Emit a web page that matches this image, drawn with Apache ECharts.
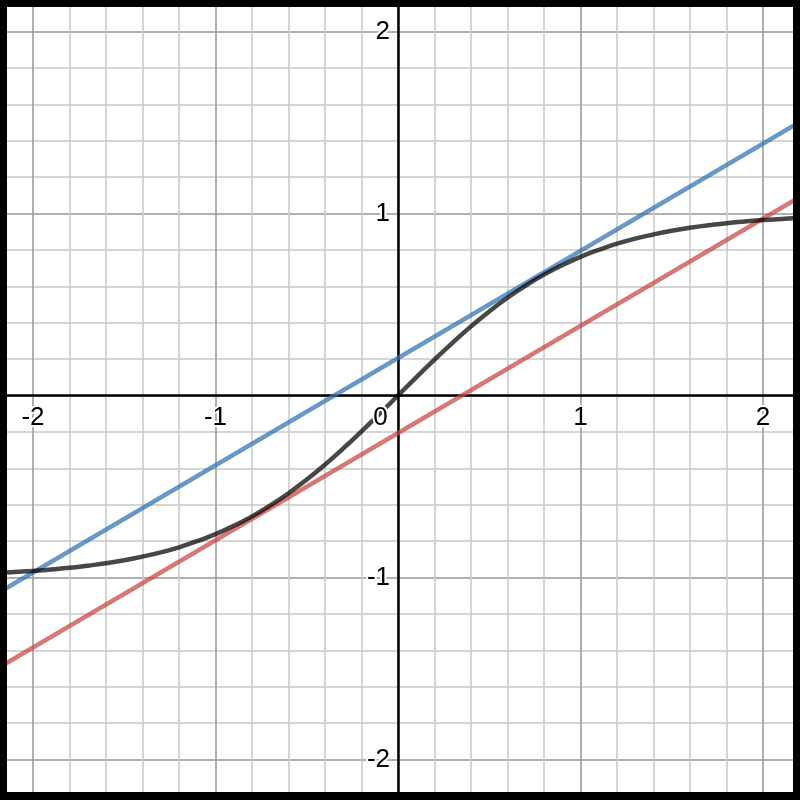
<!DOCTYPE html>
<html>
<head>
<meta charset="utf-8">
<script src="https://cdn.jsdelivr.net/npm/echarts@6/dist/echarts.min.js"></script>
<style>
  html, body { margin: 0; padding: 0; background: #fff; }
  #chart { width: 800px; height: 800px; }
</style>
</head>
<body>
<div id="chart"></div>
<script>
// Black curve (sigmoid-like)
const curveX = [-2.2,-2.1,-2.0,-1.9,-1.8,-1.7,-1.6,-1.5,-1.4,-1.3,-1.2,-1.1,-1.0,-0.9,-0.8,-0.7,-0.6,-0.5,-0.4,-0.3,-0.2,-0.1,0,
                0.1,0.2,0.3,0.4,0.5,0.6,0.7,0.8,0.9,1.0,1.1,1.2,1.3,1.4,1.5,1.6,1.7,1.8,1.9,2.0,2.1,2.2];
const curveY = [-0.976,-0.970,-0.964,-0.956,-0.947,-0.935,-0.922,-0.905,-0.885,-0.862,-0.834,-0.800,-0.762,-0.716,-0.664,-0.604,-0.537,-0.462,-0.380,-0.291,-0.197,-0.100,0,
                0.100,0.197,0.291,0.380,0.462,0.537,0.604,0.664,0.716,0.762,0.800,0.834,0.862,0.885,0.905,0.922,0.935,0.947,0.956,0.964,0.970,0.976];
// Blue straight line (end points)
const blueX = [-2.2, 2.2];
const blueY = [-1.090, 1.502];
// Red straight line (end points)
const redX = [-2.2, 2.2];
const redY = [-1.502, 1.090];
// Axis tick labels
const xTickLabels = [-2, -1, 0, 1, 2];
const yTickLabels = [-2, -1, 1, 2];

const zip = (xs, ys) => xs.map((x, i) => [x, ys[i]]);
const isInt = v => Math.abs(v - Math.round(v)) < 1e-6;

const chart = echarts.init(document.getElementById('chart'), null, { renderer: 'canvas' });
const font = "'Liberation Sans', Arial, sans-serif";
const minor = '#c8c8c8', major = '#969696';

// plot geometry (pixels)
const G = { left: -3.5, top: -4.9, width: 803, height: 800.8 };
const X_MIN = -2.2, X_MAX = 2.2, Y_MIN = -2.2, Y_MAX = 2.2;
// offsets that move the label axes onto the zero lines
const xZeroOffset = -(G.height * (0 - Y_MIN) / (Y_MAX - Y_MIN));
const yZeroOffset = -(G.width * (0 - X_MIN) / (X_MAX - X_MIN));

const labelStyle = {
  fontSize: 26, fontFamily: font, color: '#000',
  textBorderColor: '#fff', textBorderWidth: 4
};

chart.setOption({
  backgroundColor: '#ffffff',
  animation: false,
  grid: Object.assign({ containLabel: false, outerBoundsMode: 'none' }, G),
  xAxis: [{
    type: 'value', min: X_MIN, max: X_MAX, interval: 0.2,
    axisLine: { onZero: true, lineStyle: { color: '#000', width: 2.5 } },
    axisTick: { show: false },
    axisLabel: { show: false },
    splitLine: { show: true, lineStyle: { color: [minor, major, minor, minor, minor], width: 1.5 } }
  }, {
    type: 'value', min: X_MIN, max: X_MAX, interval: 0.2, position: 'bottom', offset: xZeroOffset,
    axisLine: { show: false, onZero: false }, axisTick: { show: false }, splitLine: { show: false },
    axisLabel: Object.assign({
      show: true, margin: 9, showMinLabel: false, showMaxLabel: false, hideOverlap: false,
      formatter: v => {
        if (!isInt(v)) return '';
        const r = Math.round(v);
        if (!xTickLabels.includes(r)) return '';
        return r === 0 ? '{z|0}' : String(r);
      },
      rich: { z: Object.assign({ padding: [0, 35, 0, 0] }, labelStyle) }
    }, labelStyle),
    z: 10
  }],
  yAxis: [{
    type: 'value', min: Y_MIN, max: Y_MAX, interval: 0.2,
    axisLine: { onZero: true, lineStyle: { color: '#000', width: 2.5 } },
    axisTick: { show: false },
    axisLabel: { show: false },
    splitLine: { show: true, lineStyle: { color: [minor, major, minor, minor, minor], width: 1.5 } }
  }, {
    type: 'value', min: Y_MIN, max: Y_MAX, interval: 0.2, position: 'left', offset: yZeroOffset,
    axisLine: { show: false, onZero: false }, axisTick: { show: false }, splitLine: { show: false },
    axisLabel: Object.assign({
      show: true, margin: 8, showMinLabel: false, showMaxLabel: false, hideOverlap: false,
      formatter: v => {
        if (!isInt(v)) return '';
        const r = Math.round(v);
        return yTickLabels.includes(r) ? String(r) : '';
      }
    }, labelStyle),
    z: 10
  }],
  series: [
    { type: 'line', data: zip(redX, redY), showSymbol: false, symbol: 'none',
      lineStyle: { color: 'rgba(199,68,64,0.72)', width: 4.5 }, z: 3 },
    { type: 'line', data: zip(blueX, blueY), showSymbol: false, symbol: 'none',
      lineStyle: { color: 'rgba(45,112,179,0.72)', width: 4.5 }, z: 3 },
    { type: 'line', data: zip(curveX, curveY), showSymbol: false, symbol: 'none', smooth: true,
      lineStyle: { color: 'rgba(0,0,0,0.72)', width: 4.5 }, z: 4 }
  ],
  graphic: [
    { type: 'rect', shape: { x: 0, y: 0, width: 7, height: 800 }, style: { fill: '#000' }, z: 100 },
    { type: 'rect', shape: { x: 0, y: 0, width: 800, height: 7 }, style: { fill: '#000' }, z: 100 },
    { type: 'rect', shape: { x: 793, y: 0, width: 7, height: 800 }, style: { fill: '#000' }, z: 100 },
    { type: 'rect', shape: { x: 0, y: 792, width: 800, height: 8 }, style: { fill: '#000' }, z: 100 }
  ]
});
</script>
</body>
</html>
